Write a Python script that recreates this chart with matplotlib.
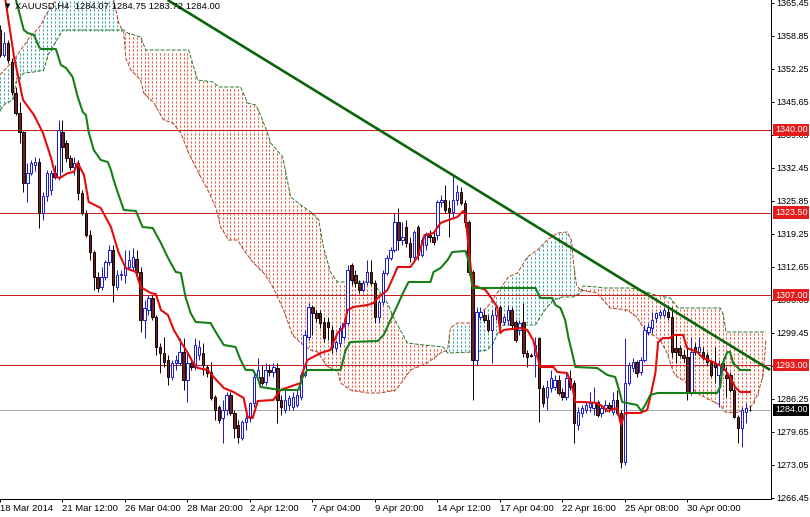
import numpy as np
import matplotlib
matplotlib.use("Agg")
import matplotlib.pyplot as plt
from matplotlib.transforms import blended_transform_factory, offset_copy

plt.rcParams['font.family'] = ['Liberation Sans', 'DejaVu Sans']

# ---------------- data (XAUUSD H4) ----------------
opens = [1360.0, 1355.0, 1357.4, 1353.6, 1347.4, 1343.4, 1339.6, 1329.4, 1331.4, 1333.0,
         1333.6, 1323.4, 1326.8, 1328.0, 1331.4, 1330.6, 1339.6, 1337.4, 1334.4, 1332.6,
         1333.4, 1327.4, 1323.4, 1319.0, 1315.6, 1310.6, 1308.6, 1310.6, 1313.6, 1316.0,
         1308.6, 1311.0, 1311.0, 1312.6, 1312.6, 1314.2, 1311.6, 1302.0, 1304.0, 1306.4,
         1302.6, 1296.6, 1295.4, 1294.0, 1290.6, 1293.4, 1293.4, 1295.6, 1290.0, 1293.4,
         1292.6, 1295.0, 1295.4, 1292.6, 1291.6, 1286.6, 1284.6, 1282.4, 1284.0, 1287.0,
         1283.4, 1281.0, 1278.4, 1281.6, 1282.4, 1285.4, 1290.4, 1290.6, 1289.6, 1292.0,
         1291.6, 1292.4, 1286.0, 1284.0, 1285.0, 1284.6, 1285.0, 1286.6, 1291.0, 1298.6,
         1304.6, 1303.4, 1303.4, 1301.6, 1301.6, 1300.0, 1296.4, 1297.4, 1298.6, 1301.4,
         1313.0, 1311.0, 1309.4, 1308.0, 1309.6, 1311.6, 1309.4, 1302.6, 1305.6, 1311.4,
         1314.4, 1316.0, 1321.6, 1318.0, 1320.6, 1317.4, 1314.6, 1320.6, 1315.0, 1317.0,
         1319.0, 1318.6, 1319.0, 1325.6, 1326.0, 1324.4, 1323.6, 1326.0, 1327.6, 1325.4,
         1321.6, 1311.6, 1294.0, 1302.6, 1303.0, 1302.0, 1300.0, 1303.0, 1304.6, 1301.6,
         1302.0, 1304.0, 1301.6, 1300.0, 1301.6, 1295.4, 1295.0, 1295.0, 1298.4, 1288.4,
         1286.6, 1288.4, 1288.6, 1290.0, 1287.6, 1286.6, 1290.4, 1289.4, 1281.0, 1283.4,
         1284.0, 1284.6, 1284.4, 1285.6, 1283.4, 1284.4, 1285.0, 1283.6, 1286.0, 1283.4,
         1273.6, 1289.4, 1292.4, 1293.6, 1291.6, 1294.0, 1299.6, 1300.4, 1302.4, 1303.0,
         1303.0, 1303.6, 1302.6, 1296.4, 1296.4, 1295.0, 1294.6, 1287.6, 1296.6, 1295.6,
         1295.6, 1295.0, 1293.6, 1293.4, 1291.0, 1293.4, 1291.0, 1291.0, 1288.0, 1282.6,
         1280.4, 1283.6, 1284.07]
highs = [1361.0, 1359.6, 1358.0, 1354.4, 1348.6, 1345.6, 1339.8, 1333.4, 1334.0, 1334.6,
         1334.4, 1327.6, 1332.0, 1332.0, 1333.0, 1342.0, 1342.0, 1338.0, 1335.0, 1334.6,
         1334.0, 1328.0, 1324.0, 1320.0, 1316.0, 1311.6, 1312.6, 1314.0, 1317.0, 1317.0,
         1312.0, 1312.0, 1316.0, 1316.0, 1316.4, 1316.0, 1312.6, 1306.0, 1307.0, 1307.0,
         1303.0, 1297.4, 1298.6, 1295.0, 1294.0, 1295.0, 1298.4, 1298.4, 1295.6, 1294.0,
         1298.4, 1298.0, 1297.4, 1293.0, 1293.6, 1287.0, 1285.0, 1286.0, 1287.6, 1287.6,
         1284.0, 1282.0, 1282.0, 1283.0, 1285.6, 1292.0, 1294.4, 1293.0, 1293.4, 1293.2,
         1293.4, 1293.4, 1287.0, 1288.0, 1287.0, 1287.6, 1288.0, 1291.6, 1300.0, 1305.4,
         1305.0, 1304.0, 1304.0, 1302.6, 1302.6, 1301.0, 1298.0, 1301.0, 1302.0, 1313.0,
         1313.4, 1312.0, 1310.0, 1310.0, 1314.0, 1314.0, 1310.0, 1306.0, 1312.0, 1315.0,
         1316.6, 1323.4, 1324.4, 1321.6, 1322.0, 1318.6, 1320.0, 1321.0, 1318.6, 1319.6,
         1320.0, 1319.6, 1326.0, 1327.0, 1329.0, 1326.0, 1331.0, 1329.0, 1328.6, 1326.0,
         1322.0, 1312.0, 1304.6, 1304.6, 1304.0, 1303.0, 1304.0, 1305.0, 1305.0, 1303.0,
         1305.0, 1304.6, 1302.0, 1302.0, 1305.4, 1296.0, 1295.4, 1298.6, 1298.6, 1289.0,
         1290.0, 1292.0, 1291.0, 1291.0, 1288.4, 1291.4, 1292.0, 1290.0, 1284.6, 1285.0,
         1285.6, 1287.6, 1288.6, 1286.0, 1285.0, 1286.0, 1285.6, 1287.6, 1288.0, 1284.0,
         1298.4, 1293.6, 1294.4, 1294.0, 1294.6, 1301.0, 1301.4, 1303.6, 1303.6, 1304.0,
         1304.6, 1305.0, 1304.6, 1299.0, 1297.0, 1296.0, 1296.4, 1298.6, 1297.4, 1298.6,
         1296.6, 1295.6, 1294.0, 1296.6, 1294.0, 1294.0, 1292.6, 1291.6, 1288.6, 1283.0,
         1284.6, 1285.4, 1284.75]
lows = [1354.6, 1354.6, 1353.4, 1347.0, 1343.0, 1337.4, 1327.6, 1325.6, 1331.0, 1331.8,
        1320.4, 1322.0, 1325.8, 1327.0, 1330.2, 1330.0, 1331.6, 1333.6, 1332.0, 1331.0,
        1326.0, 1323.0, 1318.6, 1314.0, 1308.0, 1307.6, 1308.0, 1310.0, 1313.0, 1305.6,
        1308.0, 1310.0, 1309.4, 1312.0, 1312.0, 1311.0, 1299.6, 1298.4, 1303.0, 1302.0,
        1295.0, 1291.4, 1292.6, 1289.0, 1290.0, 1292.0, 1293.0, 1288.0, 1285.6, 1292.0,
        1292.0, 1294.0, 1291.0, 1290.6, 1286.0, 1282.0, 1281.4, 1277.4, 1283.0, 1283.0,
        1278.4, 1277.4, 1278.0, 1280.0, 1281.6, 1284.6, 1289.6, 1289.0, 1289.0, 1290.8,
        1290.6, 1281.4, 1283.0, 1283.4, 1284.0, 1284.0, 1284.6, 1286.0, 1290.6, 1298.0,
        1299.0, 1301.6, 1300.4, 1297.6, 1298.0, 1295.4, 1295.6, 1296.6, 1298.0, 1301.0,
        1309.0, 1308.6, 1307.4, 1307.6, 1309.0, 1309.0, 1301.4, 1301.4, 1305.0, 1311.0,
        1314.0, 1315.6, 1316.0, 1317.0, 1316.6, 1313.6, 1314.0, 1314.0, 1314.6, 1316.0,
        1317.6, 1317.0, 1318.0, 1324.6, 1323.4, 1318.6, 1322.6, 1325.0, 1325.0, 1320.6,
        1311.0, 1286.0, 1293.0, 1302.0, 1301.6, 1299.6, 1293.4, 1302.0, 1300.6, 1301.0,
        1301.0, 1300.4, 1297.6, 1299.0, 1294.6, 1292.6, 1294.6, 1290.6, 1281.6, 1284.6,
        1284.0, 1287.6, 1288.0, 1287.0, 1286.0, 1286.0, 1288.0, 1277.4, 1280.0, 1282.6,
        1283.4, 1283.6, 1283.0, 1282.6, 1282.6, 1283.6, 1283.6, 1283.0, 1283.0, 1272.4,
        1273.0, 1289.0, 1291.6, 1290.6, 1291.0, 1293.6, 1299.0, 1299.4, 1301.6, 1302.4,
        1302.6, 1302.0, 1294.6, 1293.4, 1294.6, 1293.6, 1286.0, 1287.0, 1295.0, 1295.0,
        1294.0, 1293.0, 1290.6, 1289.4, 1284.6, 1292.0, 1286.6, 1287.6, 1282.4, 1277.4,
        1276.6, 1281.4, 1283.72]
closes = [1355.0, 1357.4, 1354.0, 1347.6, 1343.4, 1339.6, 1329.4, 1331.4, 1333.4, 1333.6,
          1323.4, 1326.8, 1331.4, 1331.4, 1330.6, 1340.0, 1336.6, 1334.4, 1332.6, 1333.4,
          1327.4, 1323.4, 1319.0, 1315.6, 1310.6, 1308.4, 1310.6, 1313.6, 1316.0, 1309.0,
          1311.0, 1311.2, 1312.6, 1314.0, 1314.6, 1311.6, 1302.0, 1304.4, 1306.4, 1302.6,
          1296.6, 1295.4, 1293.6, 1290.6, 1293.4, 1294.0, 1295.6, 1290.0, 1293.4, 1292.6,
          1297.0, 1296.6, 1293.0, 1291.4, 1286.4, 1284.0, 1282.0, 1284.0, 1287.0, 1283.4,
          1280.4, 1278.6, 1281.6, 1282.4, 1285.4, 1290.6, 1292.0, 1289.4, 1292.0, 1291.6,
          1292.6, 1286.0, 1284.6, 1286.0, 1286.4, 1286.6, 1287.0, 1291.0, 1299.0, 1304.6,
          1303.4, 1302.4, 1301.4, 1298.4, 1300.6, 1296.6, 1297.6, 1300.4, 1301.4, 1312.0,
          1310.0, 1309.4, 1308.0, 1309.4, 1311.6, 1309.4, 1302.6, 1305.6, 1311.4, 1314.4,
          1316.0, 1321.6, 1318.0, 1318.6, 1317.4, 1314.6, 1319.6, 1315.0, 1318.0, 1319.0,
          1318.6, 1317.6, 1325.6, 1326.0, 1324.0, 1323.6, 1326.0, 1327.6, 1325.4, 1321.6,
          1311.6, 1294.0, 1303.6, 1303.6, 1302.0, 1300.0, 1303.0, 1304.6, 1301.6, 1302.6,
          1304.0, 1301.0, 1298.0, 1301.4, 1295.4, 1294.6, 1294.8, 1297.0, 1288.4, 1285.4,
          1288.6, 1290.4, 1290.0, 1287.4, 1286.6, 1290.4, 1288.6, 1281.4, 1283.6, 1284.4,
          1285.0, 1285.4, 1285.6, 1283.0, 1284.4, 1285.0, 1284.4, 1286.0, 1283.4, 1273.6,
          1289.4, 1293.0, 1293.6, 1291.4, 1294.0, 1300.0, 1300.6, 1302.0, 1303.4, 1303.6,
          1304.0, 1302.6, 1295.6, 1295.6, 1295.0, 1294.4, 1287.6, 1295.6, 1295.6, 1296.6,
          1294.4, 1293.6, 1291.0, 1292.6, 1293.0, 1292.4, 1290.4, 1288.0, 1282.6, 1280.4,
          1284.0, 1284.4, 1284.00]

# Ichimoku lines (bar position, price)
tenkan_bars = [1.0, 3.6, 5.9, 8.7, 11.0, 13.0, 14.3, 15.3, 17.4, 18.9, 19.9, 21.5, 22.7, 25.8,
               28.4, 30.4, 32.2, 34.8, 36.0, 38.6, 39.9, 41.2, 43.0, 44.5, 46.3, 48.1, 49.3,
               50.6, 53.2, 54.7, 57.3, 59.8, 62.4, 63.4, 64.7, 66.0, 70.0, 71.8, 77.0, 77.7,
               78.7, 82.1, 84.6, 86.4, 88.0, 89.0, 90.5, 94.1, 95.6, 96.7, 99.2, 100.7, 101.8,
               105.1, 106.9, 108.2, 108.7, 111.0, 112.8, 114.8, 117.1, 118.6, 119.2, 119.9,
               121.0, 124.3, 125.6, 127.3, 128.1, 128.9, 133.2, 135.0, 136.5, 137.6, 138.3,
               141.7, 142.7, 145.2, 146.5, 147.3, 149.3, 152.9, 154.5, 155.5, 158.0, 159.0,
               160.0, 163.9, 165.7, 166.5, 167.8, 168.5, 169.8, 171.6, 172.4, 174.9, 175.9,
               178.5, 180.0, 182.6, 185.1, 186.9, 188.2, 189.5, 192.0]
tenkan_vals = [1368.0, 1354.6, 1346.0, 1343.0, 1339.4, 1334.6, 1330.6, 1330.4, 1331.4, 1331.6,
               1333.4, 1331.0, 1325.6, 1324.4, 1320.6, 1315.4, 1312.4, 1311.6, 1308.6, 1307.4,
               1307.2, 1304.0, 1303.0, 1300.0, 1297.6, 1295.4, 1293.6, 1292.4, 1292.0, 1290.6,
               1288.4, 1287.6, 1286.4, 1282.6, 1282.4, 1285.8, 1286.0, 1288.0, 1289.4, 1292.0,
               1294.0, 1295.4, 1296.0, 1299.4, 1300.6, 1304.0, 1304.6, 1305.0, 1305.4, 1306.4,
               1308.0, 1310.6, 1312.6, 1312.6, 1314.6, 1317.6, 1319.0, 1319.4, 1321.4, 1322.0,
               1322.6, 1323.8, 1323.0, 1317.0, 1309.0, 1308.0, 1306.6, 1304.6, 1299.4, 1300.0,
               1300.4, 1300.0, 1298.0, 1294.6, 1292.6, 1292.6, 1291.6, 1291.4, 1288.6, 1285.6,
               1285.6, 1285.4, 1284.6, 1283.8, 1284.4, 1281.0, 1283.4, 1283.4, 1284.0, 1286.6,
               1291.4, 1297.6, 1298.4, 1298.4, 1299.0, 1299.0, 1296.4, 1295.6, 1294.4, 1293.6,
               1292.6, 1290.6, 1288.6, 1287.6, 1287.6]
kijun_bars = [4.1, 6.1, 7.1, 8.7, 10.0, 10.5, 14.3, 15.6, 16.9, 18.6, 19.9, 21.2, 22.0, 22.7,
              24.0, 25.8, 27.6, 28.4, 29.1, 30.2, 31.7, 34.8, 36.5, 39.1, 41.2, 42.9, 45.0,
              46.3, 47.5, 48.8, 50.1, 53.9, 55.7, 57.3, 60.3, 61.6, 62.9, 64.7, 66.0, 66.7,
              71.8, 76.4, 77.5, 78.7, 87.2, 88.5, 89.7, 96.7, 98.2, 100.0, 101.8, 103.3, 104.6,
              110.2, 111.0, 112.8, 114.6, 115.8, 119.2, 119.9, 120.4, 121.0, 137.1, 138.3,
              141.4, 142.2, 143.5, 144.7, 145.5, 146.5, 147.3, 152.9, 155.5, 157.5, 158.5,
              159.3, 163.1, 164.2, 165.2, 166.5, 168.3, 183.6, 184.4, 185.1, 186.2, 186.9,
              187.7, 189.5, 192.0]
kijun_vals = [1366.0, 1360.0, 1359.4, 1359.0, 1356.6, 1356.2, 1356.2, 1353.0, 1352.4, 1350.6,
              1346.6, 1343.6, 1343.0, 1339.6, 1336.0, 1334.0, 1333.6, 1332.0, 1330.0, 1327.4,
              1324.0, 1323.8, 1320.6, 1320.4, 1317.4, 1314.6, 1311.6, 1311.4, 1306.6, 1303.4,
              1301.6, 1301.4, 1299.0, 1297.0, 1296.6, 1294.0, 1292.0, 1292.0, 1290.4, 1288.6,
              1288.0, 1288.0, 1290.6, 1292.0, 1292.0, 1296.0, 1297.6, 1297.8, 1299.0, 1302.0,
              1305.0, 1307.6, 1309.6, 1309.6, 1311.6, 1312.4, 1314.0, 1315.6, 1315.8, 1314.0,
              1311.4, 1308.4, 1308.4, 1306.4, 1306.4, 1305.0, 1304.4, 1302.0, 1298.6, 1295.4,
              1292.6, 1292.4, 1291.0, 1290.6, 1288.0, 1285.6, 1285.0, 1283.8, 1285.0, 1287.0,
              1287.4, 1287.4, 1288.6, 1293.4, 1295.6, 1295.6, 1293.4, 1292.0, 1292.0]
spanA_bars = [0.0, 2.8, 4.1, 5.3, 6.6, 7.4, 8.7, 10.5, 11.7, 13.8, 15.0, 27.9, 29.1, 30.4,
              31.7, 32.2, 33.5, 36.0, 36.8, 39.4, 41.9, 44.2, 46.3, 48.3, 51.4, 53.2, 55.2,
              56.5, 58.5, 60.8, 62.4, 64.9, 67.5, 69.3, 70.6, 72.6, 74.9, 77.0, 79.5, 81.3,
              83.9, 86.4, 87.2, 89.7, 94.1, 97.4, 101.3, 103.3, 105.1, 106.9, 109.4, 112.8,
              114.6, 115.3, 117.1, 120.4, 123.0, 124.8, 127.3, 130.2, 132.5, 135.0, 137.6,
              140.1, 142.7, 145.2, 146.3, 146.8, 147.6, 148.6, 152.9, 154.5, 156.2, 160.6,
              163.1, 163.9, 165.7, 167.2, 169.0, 170.8, 172.4, 173.4, 174.9, 176.7, 179.3,
              181.8, 184.4, 185.7, 188.2, 190.8, 192.6, 194.1, 195.4, 196.1]
spanA_vals = [1351.0, 1353.4, 1354.6, 1356.0, 1357.4, 1358.4, 1359.4, 1361.0, 1363.0, 1365.4,
              1368.0, 1368.0, 1366.0, 1361.4, 1359.4, 1354.4, 1352.0, 1350.0, 1347.4, 1345.4,
              1342.0, 1341.4, 1339.4, 1335.4, 1330.6, 1328.0, 1324.6, 1320.6, 1318.0, 1318.0,
              1316.0, 1313.4, 1311.4, 1309.4, 1307.4, 1304.0, 1299.0, 1297.4, 1296.0, 1295.6,
              1292.6, 1292.0, 1289.4, 1288.0, 1287.4, 1287.4, 1288.0, 1290.0, 1292.0, 1292.6,
              1293.4, 1295.4, 1296.0, 1300.4, 1301.4, 1301.4, 1303.4, 1304.6, 1307.4, 1310.6,
              1311.4, 1314.6, 1316.0, 1318.0, 1319.4, 1319.6, 1318.0, 1313.6, 1309.0, 1308.0,
              1307.4, 1306.0, 1304.4, 1304.0, 1302.6, 1301.4, 1299.4, 1299.0, 1298.0, 1295.4,
              1291.6, 1290.6, 1290.0, 1288.6, 1287.0, 1286.0, 1285.0, 1283.6, 1283.4, 1284.0,
              1285.0, 1287.4, 1291.0, 1298.0]
spanB_bars = [0.0, 1.5, 3.3, 4.1, 6.1, 8.7, 11.2, 12.3, 13.5, 14.8, 16.1, 31.7, 32.7, 36.0,
              37.3, 48.3, 50.6, 54.5, 56.0, 61.6, 63.4, 65.5, 66.7, 68.5, 69.3, 72.4, 74.4,
              77.0, 80.3, 81.6, 82.8, 84.6, 86.4, 95.4, 97.4, 99.2, 100.7, 102.5, 104.3,
              108.4, 113.5, 114.6, 121.2, 124.8, 126.3, 127.6, 128.9, 137.1, 138.3, 140.1,
              141.7, 144.0, 146.8, 148.6, 149.3, 152.9, 154.5, 161.4, 163.9, 167.8, 171.6,
              173.6, 184.4, 185.2, 185.9, 196.1]
spanB_vals = [1344.0, 1345.4, 1346.0, 1349.6, 1351.4, 1351.6, 1352.0, 1355.0, 1356.6, 1358.4,
              1360.0, 1360.0, 1359.4, 1358.6, 1356.0, 1356.0, 1350.0, 1349.6, 1348.6, 1348.6,
              1345.4, 1345.0, 1343.0, 1339.4, 1337.4, 1334.6, 1326.6, 1325.0, 1323.2, 1322.0,
              1316.6, 1311.6, 1309.6, 1309.6, 1307.4, 1305.4, 1302.6, 1300.0, 1297.4, 1297.0,
              1296.6, 1295.4, 1295.6, 1296.0, 1297.4, 1299.6, 1301.0, 1301.0, 1302.6, 1304.6,
              1306.0, 1306.6, 1306.6, 1307.4, 1308.8, 1308.6, 1308.4, 1308.4, 1308.0, 1307.0,
              1306.4, 1304.4, 1304.4, 1303.0, 1299.6, 1299.6]

trend_bars = [42.9, 197.2]
trend_prices = [1366.0, 1292.0]

level_prices = [1340.0, 1323.5, 1307.0, 1293.0]
current_price = 1284.00

price_ticks = [1365.45, 1358.85, 1352.25, 1345.65, 1339.05, 1332.45, 1325.85, 1319.25,
               1312.65, 1306.05, 1299.45, 1292.85, 1286.25, 1279.65, 1273.05, 1266.45]
time_tick_bars = [0, 16, 32, 48, 64, 80, 96, 112, 128, 144, 160, 176]
time_tick_labels = ['18 Mar 2014', '21 Mar 12:00', '26 Mar 04:00', '28 Mar 20:00',
                    '2 Apr 12:00', '7 Apr 04:00', '9 Apr 20:00', '14 Apr 12:00',
                    '17 Apr 04:00', '22 Apr 16:00', '25 Apr 08:00', '30 Apr 00:00']
header = 'XAUUSD,H4  1284.07 1284.75 1283.72 1284.00'

# ---------------- figure ----------------
W, H = 810, 517
fig = plt.figure(figsize=(W / 100, H / 100), dpi=100)
fig.patch.set_facecolor('white')
ax = fig.add_axes([0, 18 / H, 771 / W, 499 / H])
ax.set_facecolor('white')
ax.set_xlim(0.23, 197.4)
ax.set_ylim(1266.2, 1366.0)

PX = 0.72  # one pixel in points

# cloud texture: a dotted column at each bar between the two senkou spans
cb = np.arange(0, 196)
sa = np.interp(cb, spanA_bars, spanA_vals)
sb = np.interp(cb, spanB_bars, spanB_vals)
lo = np.minimum(sa, sb)
hi = np.maximum(sa, sb)
rows = np.arange(1266.5, 1366.0, 0.8)          # one dot every 4 px
inside = (rows[None, :] >= lo[:, None]) & (rows[None, :] <= hi[:, None])
bull_col = (sa >= sb)[:, None] & inside
bear_col = (sa < sb)[:, None] & inside
XX = np.repeat(cb[:, None], rows.size, axis=1)
YY = np.repeat(rows[None, :], cb.size, axis=0)
ax.plot(XX[bull_col], YY[bull_col], ls='none', marker='|', ms=1.7, mew=0.8,
        color='#2f9a9c', zorder=1)
ax.plot(XX[bear_col], YY[bear_col], ls='none', marker='|', ms=1.7, mew=0.8,
        color='#e4502f', zorder=1)

# senkou span boundaries
ax.plot(spanA_bars, spanA_vals, color='#b4452a', lw=PX, ls=(0, (4, 1.5)), zorder=2)
ax.plot(spanB_bars, spanB_vals, color='#2f7a2f', lw=PX, ls=(0, (4, 1.5)), zorder=2)

# horizontal levels
for lv in level_prices:
    ax.axhline(lv, color='#c81e1e', lw=PX, zorder=2.2)
ax.axhline(current_price, color='#a8a8a8', lw=PX, zorder=2.2)

# candles
o = np.array(opens); hh = np.array(highs); ll = np.array(lows); c = np.array(closes)
x = np.arange(len(c))
up = c >= o
BULL = '#1c1cd0'
BEAR_FILL = '#6e1f1f'
BEAR_EDGE = '#1a0505'
w1 = ax.vlines(x[up], ll[up], hh[up], colors=BULL, lw=PX, zorder=4)
w2 = ax.vlines(x[~up], ll[~up], hh[~up], colors=BEAR_EDGE, lw=PX, zorder=4)
bot = np.minimum(o, c)
hgt = np.maximum(np.abs(c - o), 0.1)
bw = 0.62
ax.bar(x[up], hgt[up], bw, bot[up], facecolor='white', edgecolor=BULL, lw=PX, zorder=5)
ax.bar(x[~up], hgt[~up], bw, bot[~up], facecolor=BEAR_FILL, edgecolor=BEAR_EDGE, lw=PX, zorder=5)

# tenkan / kijun
ax.plot(tenkan_bars, tenkan_vals, color='#e30b0b', lw=1.5, zorder=6, solid_joinstyle='round')
ax.plot(kijun_bars, kijun_vals, color='#177f17', lw=1.5, zorder=6, solid_joinstyle='round')

# trendline
ax.plot(trend_bars, trend_prices, color='#0b650b', lw=1.9, zorder=7, solid_capstyle='butt')

# axes styling
for s in ['top', 'left']:
    ax.spines[s].set_visible(False)
for s in ['right', 'bottom']:
    ax.spines[s].set_color('black')
    ax.spines[s].set_linewidth(PX)

ax.yaxis.tick_right()
ax.set_yticks(price_ticks)
ax.set_yticklabels([f'{p:.2f}' for p in price_ticks])
ax.tick_params(axis='y', direction='out', length=2.2, width=PX, pad=1.5,
               labelsize=6.5, colors='black')
ax.set_xticks(time_tick_bars)
ax.set_xticklabels(time_tick_labels, ha='left')
ax.tick_params(axis='x', direction='out', length=2.2, width=PX, pad=1.5,
               labelsize=6.8, colors='black')

# price boxes on the right axis
trans = blended_transform_factory(ax.transAxes, ax.transData)
tbox = offset_copy(trans, fig=fig, x=4, y=0, units='dots')
for lv in level_prices:
    ax.text(1.0, lv, f'{lv:.2f}', transform=tbox, ha='left', va='center', fontsize=6.5,
            color='white', clip_on=False, zorder=10,
            bbox=dict(boxstyle='square,pad=0.18', fc='#e41c1c', ec='none'))
ax.text(1.0, current_price, f'{current_price:.2f}', transform=tbox, ha='left', va='center',
        fontsize=6.5, color='white', clip_on=False, zorder=10,
        bbox=dict(boxstyle='square,pad=0.18', fc='black', ec='none'))

# header
fig.text(5 / W, 1 - 6 / H, '\u25BC', fontsize=5, va='center', ha='left',
         family=['DejaVu Sans'], color='black')
fig.text(15 / W, 1 - 6 / H, header, fontsize=6.8, va='center', ha='left', color='black')

fig.savefig('out.png', dpi=100, facecolor='white')
